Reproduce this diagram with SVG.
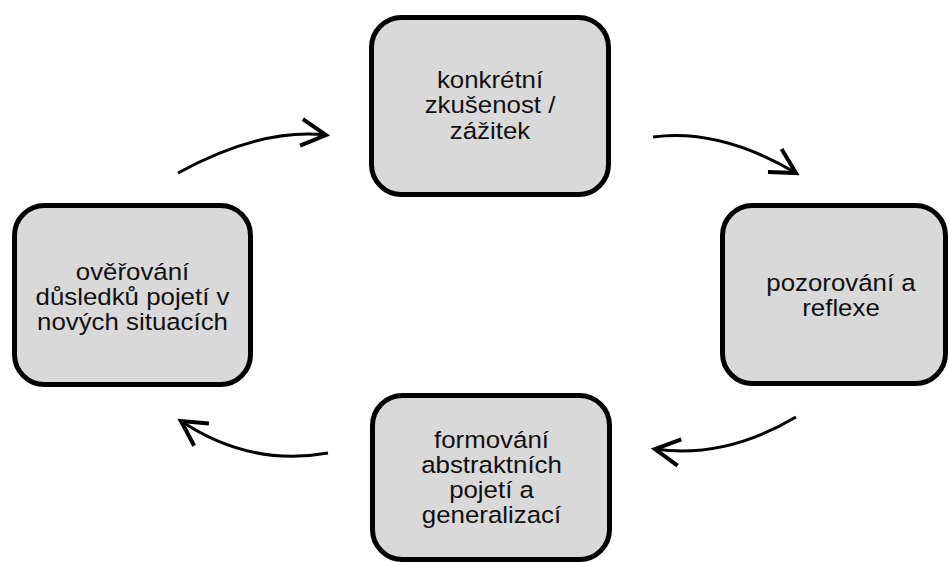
<svg xmlns="http://www.w3.org/2000/svg" width="949" height="562" viewBox="0 0 949 562">
<style>
.box{fill:#d9d9d9;stroke:#000;stroke-width:5}
.lbl{font-family:"Liberation Sans",Arial,sans-serif;font-size:23.5px;fill:#111;text-anchor:middle}
.arc{fill:none;stroke:#000;stroke-width:3;marker-end:url(#chev)}
</style>
<defs>
<marker id="chev" markerUnits="userSpaceOnUse" orient="auto" refX="0" refY="0" markerWidth="40" markerHeight="40" viewBox="-25 -15 30 30" overflow="visible">
<path d="M -18.5 -10 L 0 0 L -18.5 10" fill="none" stroke="#000" stroke-width="3"/>
</marker>
</defs>
<rect width="949" height="562" fill="#fff"/>
<g id="connectors">
<path class="arc" d="M 178 173 Q 260 128 326 135"/>
<path class="arc" d="M 653 137 Q 720 128 796 173"/>
<path class="arc" d="M 796 417 Q 725 459 655 449"/>
<path class="arc" d="M 328 453 Q 250 467 181 421"/>
</g>
<g id="node-top">
<rect class="box" x="371.5" y="17.5" width="237" height="177" rx="30"/>
<g transform="translate(490,0) scale(1.1,1)">
<text class="lbl" x="0" y="88">konkrétní</text>
<text class="lbl" x="0" y="113.5">zkušenost /</text>
<text class="lbl" x="0" y="139">zážitek</text>
</g>
</g>
<g id="node-right">
<rect class="box" x="722.5" y="205.5" width="223" height="178" rx="30"/>
<g transform="translate(841,0) scale(1.1,1)">
<text class="lbl" x="0" y="291.5">pozorování a</text>
<text class="lbl" x="0" y="316.5">reflexe</text>
</g>
</g>
<g id="node-bottom">
<rect class="box" x="372.5" y="395.5" width="237" height="164" rx="30"/>
<g transform="translate(491.5,0) scale(1.1,1)">
<text class="lbl" x="0" y="448">formování</text>
<text class="lbl" x="0" y="473">abstraktních</text>
<text class="lbl" x="0" y="498">pojetí a</text>
<text class="lbl" x="0" y="523">generalizací</text>
</g>
</g>
<g id="node-left">
<rect class="box" x="14.5" y="205.5" width="236" height="179" rx="30"/>
<g transform="translate(132.5,0) scale(1.1,1)">
<text class="lbl" x="0" y="280">ověřování</text>
<text class="lbl" x="0" y="305">důsledků pojetí v</text>
<text class="lbl" x="0" y="330">nových situacích</text>
</g>
</g>
</svg>
